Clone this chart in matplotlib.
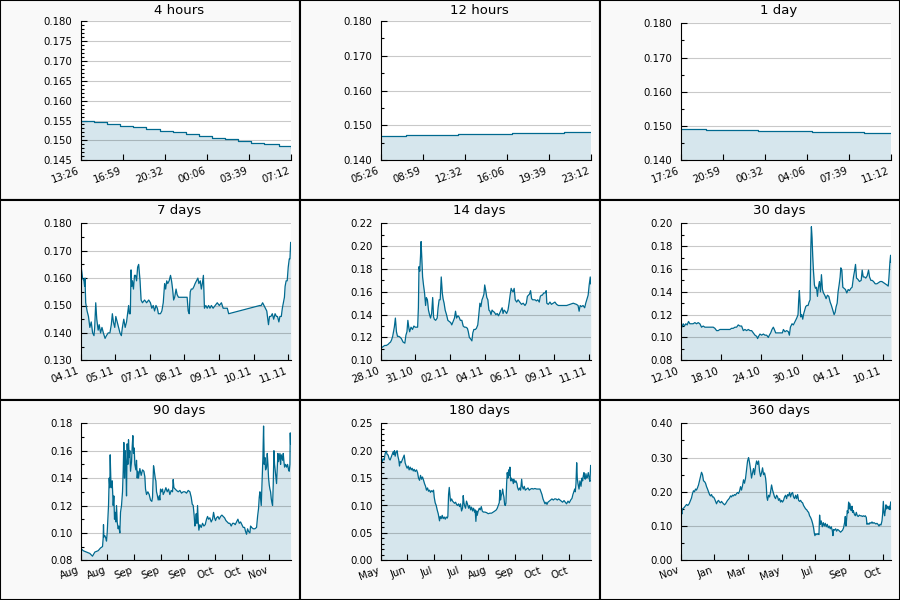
import matplotlib
matplotlib.use("Agg")
import matplotlib.pyplot as plt
from matplotlib.patches import Rectangle
from matplotlib.ticker import MultipleLocator, FormatStrFormatter

# ==========================================
# DATA
# ==========================================
titles = ['4 hours', '12 hours', '1 day', '7 days', '14 days', '30 days',
          '90 days', '180 days', '360 days']

# --- top row: hours since start, step values ---
t_4h = [0, 1.1, 2.2, 3.3, 4.4, 5.5, 6.7, 7.8, 8.9, 10.0, 11.1, 12.2, 13.3,
        14.4, 15.5, 16.7, 17.75]
v_4h = [0.1549, 0.1545, 0.1541, 0.1537, 0.1533, 0.1528, 0.1524, 0.1520,
        0.1516, 0.1511, 0.1507, 0.1503, 0.1499, 0.1494, 0.1490, 0.1486, 0.1482]

t_12h = [0, 2.19, 6.57, 11.07, 15.48, 17.75]
v_12h = [0.1469, 0.1472, 0.1475, 0.1478, 0.1480, 0.1480]

t_1d = [0, 2.19, 6.57, 11.07, 15.48, 17.75]
v_1d = [0.1491, 0.1488, 0.1485, 0.1482, 0.1479, 0.1479]

# --- days since start ---
t_7d = [0.00, 0.02, 0.06, 0.10, 0.12, 0.13, 0.15, 0.19, 0.23, 0.27,
        0.31, 0.35, 0.39, 0.41, 0.44, 0.47, 0.51, 0.54, 0.58, 0.62,
        0.66, 0.71, 0.75, 0.80, 0.85, 0.89, 0.92, 0.95, 0.99, 1.02,
        1.06, 1.10, 1.14, 1.18, 1.21, 1.25, 1.29, 1.33, 1.37, 1.39,
        1.41, 1.44, 1.46, 1.48, 1.50, 1.53, 1.56, 1.59, 1.62, 1.65,
        1.68, 1.70, 1.72, 1.75, 1.79, 1.85, 1.91, 1.97, 2.02, 2.06,
        2.10, 2.14, 2.18, 2.22, 2.25, 2.31, 2.35, 2.39, 2.43, 2.46,
        2.49, 2.52, 2.56, 2.60, 2.63, 2.66, 2.69, 2.72, 2.76, 2.79,
        2.83, 2.87, 2.99, 3.08, 3.11, 3.14, 3.17, 3.20, 3.24, 3.28,
        3.31, 3.35, 3.39, 3.42, 3.46, 3.49, 3.52, 3.55, 3.56, 3.58,
        3.62, 3.66, 3.70, 3.74, 3.78, 3.83, 3.89, 3.95, 4.01, 4.07,
        4.12, 4.24, 4.28, 5.18, 5.22, 5.26, 5.30, 5.34, 5.38, 5.40,
        5.43, 5.46, 5.50, 5.54, 5.58, 5.62, 5.66, 5.69, 5.73, 5.76,
        5.80, 5.83, 5.86, 5.89, 5.91, 5.94, 5.97, 6.00, 6.03, 6.05,
        6.07]
v_7d = [.165, .164, .160, .159, .157, .160, .151, .148, .146, .142,
        .144, .140, .139, .142, .151, .145, .141, .143, .140, .142,
        .140, .138, .139, .140, .140, .143, .147, .144, .142, .146,
        .144, .142, .140, .139, .142, .145, .142, .144, .148, .150,
        .147, .147, .163, .157, .159, .156, .161, .161, .159, .164,
        .165, .162, .159, .152, .151, .152, .151, .152, .151, .149,
        .150, .148, .150, .149, .147, .147, .148, .151, .158, .156,
        .159, .158, .159, .161, .159, .156, .152, .153, .156, .154,
        .153, .153, .153, .153, .148, .147, .155, .156, .156, .157,
        .158, .159, .160, .158, .159, .156, .158, .161, .157, .149,
        .150, .149, .150, .149, .150, .149, .150, .151, .150, .151,
        .149, .149, .147, .150, .150, .151, .150, .149, .148, .146,
        .143, .146, .146, .147, .145, .147, .146, .146, .144, .146,
        .146, .149, .151, .153, .157, .159, .159, .164, .167, .167,
        .173]

t_14d = [0.00, 0.07, 0.18, 0.28, 0.39, 0.51, 0.58, 0.67, 0.74, 0.81,
         0.85, 0.92, 0.99, 1.06, 1.13, 1.22, 1.32, 1.39, 1.50, 1.62,
         1.69, 1.76, 1.82, 1.89, 1.94, 2.03, 2.13, 2.22, 2.31, 2.40,
         2.47, 2.52, 2.56, 2.61, 2.66, 2.70, 2.75, 2.80, 2.86, 2.93,
         3.00, 3.05, 3.12, 3.19, 3.26, 3.33, 3.40, 3.47, 3.53, 3.58,
         3.67, 3.77, 3.83, 3.90, 3.97, 4.04, 4.11, 4.16, 4.23, 4.30,
         4.39, 4.48, 4.57, 4.67, 4.74, 4.83, 4.92, 4.99, 5.06, 5.15,
         5.22, 5.31, 5.41, 5.50, 5.59, 5.68, 5.78, 5.84, 5.91, 5.98,
         6.08, 6.14, 6.21, 6.31, 6.38, 6.47, 6.54, 6.61, 6.68, 6.75,
         6.81, 6.88, 6.93, 7.00, 7.07, 7.14, 7.21, 7.28, 7.35, 7.42,
         7.48, 7.58, 7.67, 7.76, 7.85, 7.95, 8.02, 8.09, 8.15, 8.22,
         8.29, 8.39, 8.48, 8.55, 8.62, 8.69, 8.75, 8.82, 8.89, 8.96,
         9.06, 9.15, 9.26, 9.38, 9.49, 9.61, 9.70, 9.77, 9.84, 9.91,
         9.98, 10.05, 10.12, 10.19, 10.28, 10.37, 10.46, 10.56, 10.63, 10.70,
         10.76, 10.86, 10.95, 11.02, 11.06, 11.16, 11.27, 11.37, 11.48, 11.60,
         11.71, 11.83, 12.15, 12.38, 12.59, 12.82, 13.03, 13.14, 13.21, 13.28,
         13.37, 13.47, 13.58, 13.65, 13.74, 13.81, 13.88, 13.95, 13.98]
v_14d = [.114, .111, .112, .113, .113, .114, .115, .116, .118, .121,
         .124, .129, .137, .125, .121, .121, .120, .119, .116, .115,
         .122, .125, .135, .128, .125, .129, .127, .130, .129, .129,
         .129, .146, .182, .178, .191, .204, .188, .173, .166, .159,
         .148, .155, .153, .144, .140, .137, .141, .155, .138, .136,
         .135, .137, .146, .153, .153, .173, .159, .154, .150, .144,
         .140, .135, .134, .133, .131, .134, .137, .143, .137, .139,
         .138, .135, .135, .130, .129, .129, .128, .125, .120, .119,
         .117, .124, .127, .127, .128, .131, .140, .150, .147, .153,
         .155, .158, .166, .161, .155, .153, .144, .143, .140, .144,
         .143, .142, .140, .141, .139, .142, .144, .146, .141, .144,
         .143, .141, .144, .150, .157, .163, .161, .160, .163, .153,
         .151, .153, .151, .149, .150, .148, .150, .156, .157, .158,
         .161, .154, .153, .153, .153, .152, .153, .151, .156, .157,
         .157, .159, .159, .161, .150, .149, .151, .149, .150, .151,
         .149, .148, .148, .148, .149, .150, .149, .148, .143, .148,
         .147, .148, .146, .150, .154, .157, .166, .173, .167]

t_30d = [0.00, 0.20, 0.40, 0.59, 0.79, 0.99, 1.19, 1.39, 1.63, 1.88,
         2.13, 2.38, 2.62, 2.87, 3.12, 3.37, 3.61, 3.86, 4.11, 4.36,
         4.60, 4.85, 5.10, 5.35, 5.59, 5.84, 6.09, 6.34, 6.58, 6.83,
         7.08, 7.33, 7.57, 7.82, 8.07, 8.32, 8.56, 8.81, 9.06, 9.31,
         9.55, 9.80, 10.05, 10.30, 10.54, 10.79, 11.04, 11.29, 11.43, 11.58,
         11.78, 12.03, 12.28, 12.52, 12.77, 13.02, 13.17, 13.37, 13.56, 13.76,
         13.91, 14.11, 14.36, 14.60, 14.85, 15.10, 15.25, 15.49, 15.74, 15.99,
         16.14, 16.29, 16.53, 16.73, 16.98, 17.23, 17.42, 17.52, 17.62, 17.72,
         17.82, 17.97, 18.12, 18.27, 18.41, 18.56, 18.71, 18.91, 19.06, 19.21,
         19.31, 19.40, 19.50, 19.60, 19.70, 19.85, 20.00, 20.15, 20.30, 20.44,
         20.59, 20.74, 20.89, 21.04, 21.19, 21.38, 21.58, 21.78, 21.98, 22.18,
         22.37, 22.57, 22.77, 22.92, 23.07, 23.22, 23.36, 23.51, 23.66, 23.76,
         23.91, 24.06, 24.26, 24.45, 24.65, 24.85, 25.05, 25.25, 25.44, 25.64,
         25.79, 25.94, 26.09, 26.28, 26.53, 26.78, 26.93, 27.08, 27.27, 27.47,
         27.67, 27.87, 28.02, 28.22, 28.41, 28.61, 28.86, 29.11, 29.35, 29.60,
         29.85, 30.10, 30.34, 30.59, 30.79, 30.89, 31.04, 31.14, 31.19]
v_30d = [.111, .109, .112, .110, .112, .111, .114, .112, .112, .112,
         .113, .112, .113, .112, .109, .110, .109, .109, .109, .109,
         .109, .109, .108, .106, .106, .107, .107, .107, .107, .107,
         .107, .107, .108, .108, .109, .109, .111, .110, .110, .106,
         .107, .106, .107, .106, .106, .104, .102, .101, .099, .101,
         .103, .102, .103, .102, .102, .100, .102, .104, .107, .109,
         .107, .104, .104, .104, .104, .104, .107, .105, .106, .105,
         .102, .109, .112, .111, .114, .117, .120, .133, .141, .130,
         .118, .120, .116, .121, .124, .127, .128, .128, .131, .133,
         .177, .197, .187, .171, .159, .146, .143, .144, .136, .144,
         .149, .140, .155, .142, .139, .137, .134, .137, .136, .131,
         .128, .124, .120, .122, .127, .130, .140, .146, .153, .161,
         .159, .144, .143, .142, .139, .142, .141, .143, .144, .153,
         .158, .164, .152, .151, .149, .150, .159, .153, .153, .152,
         .154, .159, .153, .150, .150, .149, .147, .147, .148, .149,
         .149, .148, .147, .146, .145, .152, .166, .172, .166]

t_90d = [0.0, 1.14, 2.56, 3.98, 5.12, 6.11, 7.53, 8.53, 9.38, 9.66,
         9.80, 9.95, 10.37, 10.80, 11.08, 11.37, 11.65, 11.94, 12.22, 12.50,
         12.65, 12.93, 13.22, 13.50, 13.93, 14.21, 14.49, 14.78, 15.06, 15.35,
         15.63, 16.06, 16.34, 16.77, 17.05, 17.48, 17.90, 18.19, 18.47, 18.76,
         19.04, 19.33, 19.61, 19.89, 20.18, 20.46, 20.75, 21.03, 21.32, 21.74,
         22.03, 22.31, 22.59, 22.88, 23.16, 23.59, 23.87, 24.16, 24.44, 24.73,
         25.29, 25.86, 26.43, 27.00, 27.42, 27.71, 28.14, 28.70, 29.27, 29.84,
         30.41, 30.69, 31.12, 31.40, 31.83, 32.11, 32.40, 32.68, 33.11, 33.54,
         33.82, 34.10, 34.53, 34.96, 35.24, 35.81, 36.38, 36.95, 37.51, 38.08,
         38.65, 39.22, 39.50, 39.79, 40.36, 40.92, 41.64, 42.35, 43.06, 43.77,
         44.48, 45.19, 45.90, 46.61, 47.18, 47.60, 48.03, 48.46, 48.74, 49.02,
         49.31, 49.59, 49.88, 50.16, 50.45, 50.87, 51.44, 52.01, 52.58, 53.15,
         53.71, 54.14, 54.57, 55.13, 55.70, 56.27, 56.70, 57.12, 57.55, 57.98,
         58.55, 59.11, 59.68, 60.25, 60.82, 61.39, 61.96, 62.52, 63.09, 63.66,
         64.23, 64.80, 65.37, 65.93, 66.50, 67.07, 67.64, 68.21, 68.78, 69.34,
         69.91, 70.34, 70.77, 71.19, 71.62, 72.19, 72.47, 72.90, 73.61, 74.32,
         75.03, 75.46, 75.88, 76.17, 76.45, 76.73, 77.02, 77.44, 77.73, 78.01,
         78.30, 78.58, 78.87, 79.29, 79.58, 79.86, 80.14, 80.43, 80.71, 81.00,
         81.28, 81.57, 81.85, 82.13, 82.42, 82.70, 82.99, 83.27, 83.55, 83.84,
         84.12, 84.41, 84.69, 84.98, 85.26, 85.54, 85.83, 86.11, 86.40, 86.68,
         86.97, 87.39, 87.82, 88.24, 88.67, 88.95, 89.24, 89.38, 89.52]
v_90d = [.089, .087, .086, .085, .083, .086, .087, .089, .090, .096,
         .106, .097, .098, .096, .094, .100, .110, .120, .140, .133,
         .157, .138, .133, .138, .120, .127, .110, .115, .108, .120,
         .108, .103, .105, .100, .115, .120, .130, .145, .166, .140,
         .160, .150, .127, .165, .150, .168, .155, .160, .145, .152,
         .163, .171, .158, .162, .150, .146, .153, .140, .145, .140,
         .147, .142, .146, .145, .141, .132, .128, .130, .128, .124,
         .123, .126, .149, .146, .140, .138, .130, .128, .124, .127,
         .124, .132, .130, .132, .128, .130, .133, .130, .132, .128,
         .131, .130, .139, .133, .132, .131, .130, .131, .129, .130,
         .130, .129, .131, .130, .126, .121, .120, .112, .105, .108,
         .114, .107, .120, .108, .102, .106, .104, .107, .105, .106,
         .110, .112, .110, .111, .108, .110, .115, .111, .109, .111,
         .112, .110, .112, .113, .112, .111, .109, .108, .107, .107,
         .105, .107, .107, .106, .108, .110, .107, .108, .106, .104,
         .104, .101, .099, .103, .101, .100, .105, .104, .103, .103,
         .104, .112, .118, .126, .130, .125, .120, .140, .155, .178,
         .150, .155, .146, .148, .158, .150, .140, .135, .132, .130,
         .125, .122, .120, .135, .160, .150, .145, .140, .136, .148,
         .158, .152, .155, .158, .150, .157, .155, .153, .158, .152,
         .148, .150, .148, .150, .146, .145, .150, .173, .165]

t_180d = [0.0, 0.6, 1.4, 2.3, 3.1, 4.0, 4.8, 5.7, 6.5, 7.4,
          8.2, 9.1, 10.0, 10.8, 11.4, 11.9, 12.5, 13.4, 14.2, 14.8,
          15.6, 16.2, 16.8, 17.6, 18.5, 19.3, 20.2, 21.0, 21.9, 22.7,
          23.6, 24.4, 25.3, 26.2, 27.0, 27.9, 28.7, 29.6, 30.7, 31.6,
          32.4, 33.3, 34.1, 35.0, 35.8, 36.7, 37.5, 38.4, 39.2, 40.1,
          40.9, 41.8, 42.6, 43.5, 44.4, 45.2, 45.8, 46.6, 47.5, 48.3,
          49.2, 49.8, 50.3, 50.9, 51.7, 52.6, 53.4, 54.3, 55.2, 56.0,
          56.9, 57.4, 58.0, 58.6, 59.1, 59.7, 60.6, 61.4, 62.3, 63.1,
          64.0, 64.8, 65.7, 66.5, 67.4, 68.2, 69.1, 69.9, 70.5, 71.1,
          71.6, 72.5, 73.3, 74.2, 75.1, 75.9, 76.8, 77.6, 78.5, 79.3,
          80.2, 80.7, 81.3, 81.9, 82.4, 83.3, 84.2, 85.0, 85.9, 86.7,
          87.6, 89.0, 90.4, 91.8, 93.2, 94.7, 96.1, 97.5, 98.7, 99.5,
          100.4, 101.2, 101.8, 102.3, 102.9, 103.5, 104.1, 104.6, 105.2, 105.8,
          106.3, 106.9, 107.5, 108.0, 108.6, 109.2, 109.7, 110.3, 110.9, 111.4,
          112.0, 112.6, 113.2, 113.7, 114.6, 115.4, 116.3, 116.8, 117.7, 118.6,
          119.4, 120.3, 120.8, 121.7, 122.5, 123.4, 124.5, 125.7, 126.8, 127.9,
          129.1, 130.2, 131.6, 133.1, 134.5, 135.9, 136.7, 137.6, 138.5, 139.3,
          140.2, 141.0, 141.9, 142.7, 143.9, 145.0, 146.1, 147.3, 148.4, 149.5,
          150.7, 151.8, 153.0, 154.1, 155.2, 156.4, 157.5, 158.6, 159.8, 160.9,
          162.1, 163.2, 164.0, 164.9, 165.5, 166.0, 166.6, 167.2, 167.7, 168.3,
          169.2, 170.0, 170.9, 171.7, 172.3, 172.9, 173.4, 174.0, 174.5, 175.1,
          175.7, 176.3, 177.1, 178.0, 178.5, 179.1]
v_180d = [.183, .190, .180, .185, .183, .195, .199, .193, .192, .185,
          .183, .188, .193, .198, .193, .200, .190, .198, .200, .190,
          .183, .172, .180, .178, .183, .188, .192, .178, .172, .168,
          .172, .165, .170, .165, .168, .163, .166, .162, .165, .160,
          .150, .146, .155, .148, .152, .146, .140, .135, .128, .132,
          .126, .128, .124, .127, .125, .128, .115, .105, .100, .092,
          .085, .078, .072, .080, .076, .082, .076, .079, .075, .079,
          .077, .080, .120, .133, .120, .108, .112, .108, .106, .104,
          .106, .102, .100, .103, .098, .103, .090, .095, .118, .105,
          .100, .095, .108, .102, .095, .100, .092, .097, .090, .095,
          .088, .092, .071, .090, .082, .090, .095, .092, .098, .090,
          .088, .088, .087, .085, .086, .086, .088, .090, .092, .095,
          .100, .105, .128, .110, .118, .122, .130, .122, .115, .102,
          .100, .104, .140, .160, .150, .165, .155, .170, .145, .150,
          .145, .148, .140, .148, .142, .145, .140, .133, .128, .132,
          .128, .148, .135, .130, .135, .128, .130, .132, .128, .130,
          .131, .130, .131, .130, .130, .130, .125, .120, .112, .108,
          .103, .106, .102, .106, .108, .110, .112, .110, .112, .112,
          .110, .112, .110, .108, .106, .109, .106, .103, .108, .105,
          .110, .113, .120, .126, .130, .125, .140, .178, .150, .140,
          .130, .145, .135, .150, .145, .155, .160, .150, .148, .158,
          .150, .152, .160, .148, .144, .173]

t_360d = [0.0, 1.1, 2.3, 3.4, 5.7, 8.0, 10.3, 12.5, 14.8, 17.1,
          18.8, 20.5, 22.2, 23.9, 25.7, 27.4, 29.1, 30.8, 32.5, 34.2,
          35.9, 37.6, 39.3, 41.0, 42.8, 44.5, 46.2, 47.9, 49.6, 51.3,
          53.0, 54.7, 56.4, 58.1, 59.9, 61.6, 63.3, 65.0, 66.7, 68.4,
          70.1, 71.8, 73.5, 75.2, 77.0, 78.7, 80.4, 82.1, 83.8, 85.5,
          87.2, 88.9, 90.6, 92.3, 94.1, 95.8, 97.5, 99.2, 100.9, 102.6,
          104.3, 106.0, 107.7, 109.4, 111.2, 112.9, 114.6, 116.3, 118.0, 119.7,
          121.4, 123.1, 124.8, 126.5, 128.3, 130.0, 131.7, 133.4, 135.1, 136.8,
          138.5, 140.2, 141.9, 143.6, 145.4, 146.5, 147.6, 148.8, 150.5, 152.2,
          153.9, 155.6, 157.3, 159.0, 160.7, 162.5, 164.2, 165.9, 167.6, 169.3,
          171.0, 172.7, 174.4, 176.1, 177.8, 179.6, 181.3, 183.0, 184.7, 186.4,
          188.1, 189.8, 191.5, 193.2, 194.9, 196.7, 198.4, 200.1, 201.8, 203.5,
          205.2, 206.9, 208.6, 210.3, 212.0, 213.8, 215.5, 217.2, 218.9, 220.6,
          222.3, 224.0, 225.7, 227.4, 228.6, 229.7, 231.4, 233.1, 234.8, 236.6,
          237.7, 238.8, 240.5, 242.3, 244.0, 245.7, 247.4, 249.1, 250.8, 252.5,
          254.2, 255.9, 257.6, 259.4, 260.5, 261.6, 263.3, 265.1, 266.8, 268.5,
          270.2, 271.9, 273.6, 275.3, 277.0, 278.7, 280.4, 281.6, 282.7, 283.9,
          285.0, 286.1, 287.3, 288.4, 289.6, 290.7, 291.8, 293.0, 294.1, 295.3,
          297.0, 298.7, 300.4, 302.1, 303.8, 305.5, 307.2, 308.9, 310.7, 312.4,
          314.1, 315.8, 317.5, 318.6, 320.3, 322.1, 323.8, 325.5, 327.2, 328.9,
          330.6, 332.3, 334.0, 335.7, 337.4, 339.2, 340.9, 342.6, 344.3, 345.4,
          346.6, 347.7, 348.8, 350.0, 351.1, 352.3, 353.4, 354.5, 355.7, 356.8,
          358.0, 359.1]
v_360d = [.150, .145, .135, .150, .153, .158, .163, .160, .165, .175,
          .182, .195, .203, .200, .208, .205, .212, .220, .232, .245,
          .257, .250, .232, .230, .225, .215, .208, .200, .192, .188,
          .192, .185, .185, .180, .172, .165, .172, .175, .170, .168,
          .172, .168, .165, .162, .165, .170, .175, .178, .182, .188,
          .185, .190, .188, .192, .190, .195, .198, .195, .202, .215,
          .205, .218, .235, .225, .240, .265, .290, .300, .285, .265,
          .240, .255, .268, .250, .275, .290, .280, .290, .260, .245,
          .255, .270, .250, .255, .240, .220, .185, .175, .190, .185,
          .200, .220, .205, .195, .185, .180, .190, .185, .175, .180,
          .170, .175, .170, .175, .185, .190, .180, .192, .188, .198,
          .185, .195, .198, .185, .180, .190, .180, .192, .175, .172,
          .175, .170, .168, .160, .155, .150, .148, .143, .140, .130,
          .125, .118, .108, .095, .080, .072, .078, .075, .078, .075,
          .132, .105, .115, .098, .110, .100, .108, .098, .105, .095,
          .100, .092, .098, .087, .072, .090, .088, .092, .085, .090,
          .088, .085, .082, .085, .088, .095, .110, .128, .100, .120,
          .145, .138, .170, .150, .165, .150, .145, .158, .140, .145,
          .135, .130, .140, .130, .128, .132, .130, .130, .128, .130,
          .128, .130, .125, .105, .108, .105, .110, .108, .112, .108,
          .110, .108, .106, .108, .105, .100, .105, .103, .115, .135,
          .172, .140, .130, .145, .162, .150, .158, .155, .150, .158,
          .148, .170]

# x tick labels per panel
xlabels = [
    ['13:26', '16:59', '20:32', '00:06', '03:39', '07:12'],
    ['05:26', '08:59', '12:32', '16:06', '19:39', '23:12'],
    ['17:26', '20:59', '00:32', '04:06', '07:39', '11:12'],
    ['04.11', '05.11', '07.11', '08.11', '09.11', '10.11', '11.11'],
    ['28.10', '31.10', '02.11', '04.11', '06.11', '09.11', '11.11'],
    ['12.10', '18.10', '24.10', '30.10', '04.11', '10.11'],
    ['Aug', 'Aug', 'Sep', 'Sep', 'Sep', 'Oct', 'Oct', 'Nov'],
    ['May', 'Jun', 'Jul', 'Jul', 'Aug', 'Sep', 'Oct', 'Oct'],
    ['Nov', 'Jan', 'Mar', 'May', 'Jul', 'Sep', 'Oct'],
]

series = [(t_4h, v_4h), (t_12h, v_12h), (t_1d, v_1d),
          (t_7d, v_7d), (t_14d, v_14d), (t_30d, v_30d),
          (t_90d, v_90d), (t_180d, v_180d), (t_360d, v_360d)]

# ==========================================
# AXIS SETTINGS PER PANEL
# ==========================================
# (x end, x tick step, y min, y max, y major, y minor, label format, top px, stepped)
settings = [
    (17.75, 3.55, 0.145, 0.180, 0.005, 0.001, '%.3f', 21.0, True),
    (17.75, 3.55, 0.140, 0.180, 0.010, 0.005, '%.3f', 21.0, True),
    (17.75, 3.55, 0.140, 0.180, 0.010, 0.005, '%.3f', 23.3, True),
    (6.08, 1.0, 0.130, 0.180, 0.010, 0.005, '%.3f', 23.3, False),
    (14.0, 2.31, 0.10, 0.22, 0.02, 0.01, '%.2f', 23.3, False),
    (31.2, 6.0, 0.08, 0.20, 0.02, 0.01, '%.2f', 23.3, False),
    (89.7, 11.5, 0.08, 0.18, 0.02, 0.01, '%.2f', 23.3, False),
    (179.4, 23.0, 0.00, 0.25, 0.05, 0.01, '%.2f', 23.3, False),
    (359.7, 57.57, 0.00, 0.40, 0.10, 0.05, '%.2f', 23.3, False),
]

line_color = '#00698f'
W, H = 900, 600

fig = plt.figure(figsize=(9, 6), dpi=100)
fig.patch.set_facecolor('white')

for i in range(9):
    r, c = divmod(i, 3)
    x0, y0 = 300 * c, 200 * r
    xend, xstep, ymin, ymax, ymaj, ymin_step, fmt, top, stepped = settings[i]
    t, v = series[i]

    # cell background with black frame
    fig.add_artist(Rectangle((x0 / W, 1 - (y0 + 200) / H), 300 / W, 200 / H,
                             transform=fig.transFigure, facecolor='#f9f9f9',
                             edgecolor='black', lw=1.5, zorder=0))

    ax = fig.add_axes([(x0 + 80.5) / W, 1 - (y0 + 160.3) / H,
                       210.5 / W, (160.3 - top) / H])
    ax.set_facecolor('white')

    ds = 'steps-post' if stepped else 'default'
    step = 'post' if stepped else None
    ax.fill_between(t, v, ymin, color=line_color, alpha=0.16, lw=0, step=step)
    ax.plot(t, v, color=line_color, lw=0.9, drawstyle=ds)

    ax.set_xlim(0, xend)
    ax.set_ylim(ymin, ymax)
    labels = xlabels[i]
    ax.set_xticks([k * xstep for k in range(len(labels))])
    ax.set_xticklabels(labels, rotation=20, ha='right')

    ax.yaxis.set_major_locator(MultipleLocator(ymaj))
    ax.yaxis.set_minor_locator(MultipleLocator(ymin_step))
    ax.yaxis.set_major_formatter(FormatStrFormatter(fmt))

    ax.yaxis.grid(True, color='black', alpha=0.21, lw=0.8)
    for s in ['top', 'right']:
        ax.spines[s].set_visible(False)
    for s in ['left', 'bottom']:
        ax.spines[s].set_linewidth(0.8)

    ax.tick_params(axis='both', which='major', direction='in', length=4.3,
                   width=0.8, labelsize=7.3)
    ax.tick_params(axis='y', which='minor', direction='in', length=2.2, width=0.8)
    ax.tick_params(axis='y', pad=5.8)
    ax.tick_params(axis='x', pad=3.5)

    fig.text((x0 + 179) / W, 1 - (y0 + 10.7) / H, titles[i],
             ha='center', va='center', fontsize=9.5)

fig.savefig('out.png', dpi=100)
